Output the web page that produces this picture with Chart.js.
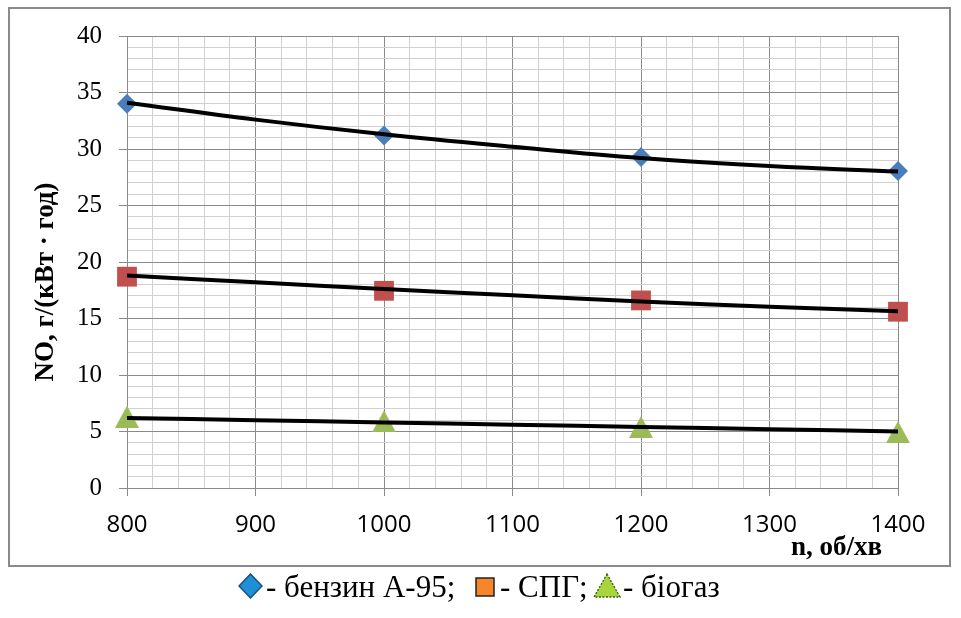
<!DOCTYPE html>
<html>
<head>
<meta charset="utf-8">
<script src="https://cdn.jsdelivr.net/npm/chart.js@4/dist/chart.umd.min.js"></script>
<style>
    body { margin: 0; background: #fff; }
    #wrap { position: relative; width: 961px; height: 618px; }
    .mark { position: absolute; }
</style>
</head>
<body>
<div id="wrap">
    <canvas id="grafico" width="961" height="618"></canvas>
    <svg class="mark" style="left:238px;top:573px" width="25" height="26">
        <polygon points="12.5,1 24,13 12.5,25 1,13" fill="#1f8fd6" stroke="#1b4f80" stroke-width="1.5"/>
    </svg>
    <svg class="mark" style="left:475px;top:577px" width="20" height="20">
        <rect x="1" y="1" width="18" height="18" fill="#f7862a" stroke="#222" stroke-width="1.5"/>
    </svg>
    <svg class="mark" style="left:593px;top:573px" width="28" height="25">
        <polygon points="14,1 27,24 1,24" fill="#a8d43c" stroke="#3d5a1a" stroke-width="1.3" stroke-dasharray="2,1.5"/>
    </svg>
</div>
<script>
// dados
const rpm = [800, 1000, 1200, 1400];
const benzin = [34.0, 31.2, 29.3, 28.05];
const spg = [18.7, 17.45, 16.6, 15.6];
const biogas = [6.3, 5.9, 5.4, 4.95];

// linhas de tendência (pretas)
const trendRpm = [800, 900, 1000, 1100, 1200, 1300, 1400];
const benzinTrend = [34.1, 32.6, 31.3, 30.2, 29.2, 28.5, 28.0];
const spgTrend = [18.8, 18.2, 17.6, 17.05, 16.5, 16.05, 15.65];
const biogasTrend = [6.2, 6.0, 5.8, 5.6, 5.4, 5.2, 5.0];

const yTitle = 'NO, г/(кВт · год)';
const xTitle = 'n, об/хв';
const legendaTextos = ['- бензин А-95;', '- СПГ;', '- біогаз'];
const legendaX = [266, 500, 623];

function pares(xs, ys) {
    return xs.map((x, i) => ({ x: x, y: ys[i] }));
}

// triângulo centrado na caixa, como no Excel
function trianguloImg() {
    const c = document.createElement('canvas');
    c.width = 24;
    c.height = 22;
    const g = c.getContext('2d');
    g.fillStyle = '#9bbb59';
    g.beginPath();
    g.moveTo(12, 0);
    g.lineTo(24, 22);
    g.lineTo(0, 22);
    g.closePath();
    g.fill();
    return c;
}

const MAJOR = '#8a8a8a';
const MINOR = '#d0d0d0';

const moldura = {
    id: 'moldura',
    beforeDraw(chart) {
        const ctx = chart.ctx;
        ctx.save();
        ctx.fillStyle = '#fff';
        ctx.fillRect(0, 0, chart.width, chart.height);
        ctx.restore();
    },
    afterDraw(chart) {
        const ctx = chart.ctx;
        ctx.save();
        ctx.strokeStyle = '#8a8a8a';
        ctx.lineWidth = 2;
        ctx.strokeRect(9, 8, 941, 558);

        // legenda
        ctx.fillStyle = '#000';
        ctx.font = '31px "Liberation Serif", serif';
        ctx.textAlign = 'left';
        ctx.textBaseline = 'alphabetic';
        legendaTextos.forEach((t, i) => ctx.fillText(t, legendaX[i], 597));

        // títulos dos eixos
        ctx.font = 'bold 27px "Liberation Serif", serif';
        ctx.textAlign = 'right';
        ctx.fillText(xTitle, 882, 555);

        ctx.translate(53, 282);
        ctx.rotate(-Math.PI / 2);
        ctx.textAlign = 'center';
        ctx.fillText(yTitle, 0, 0);
        ctx.restore();
    }
};

const ctx = document.getElementById('grafico').getContext('2d');

new Chart(ctx, {
    type: 'scatter',
    data: {
        datasets: [
            { data: pares(trendRpm, benzinTrend), showLine: true, borderColor: '#000', borderWidth: 4, pointRadius: 0, tension: 0.4, order: 0, clip: false },
            { data: pares(trendRpm, spgTrend), showLine: true, borderColor: '#000', borderWidth: 4, pointRadius: 0, tension: 0.4, order: 0, clip: false },
            { data: pares(trendRpm, biogasTrend), showLine: true, borderColor: '#000', borderWidth: 4, pointRadius: 0, tension: 0.4, order: 0, clip: false },
            { data: pares(rpm, benzin), pointStyle: 'rectRot', pointRadius: 10, backgroundColor: '#4a7ebb', borderWidth: 0, order: 1, clip: false },
            { data: pares(rpm, spg), pointStyle: 'rect', pointRadius: 14, backgroundColor: '#c0504d', borderWidth: 0, order: 1, clip: false },
            { data: pares(rpm, biogas), pointStyle: trianguloImg(), backgroundColor: '#9bbb59', borderWidth: 0, order: 1, clip: false }
        ]
    },
    options: {
        responsive: false,
        animation: false,
        events: [],
        layout: { padding: { left: 0, top: 36, right: 63, bottom: 50 } },
        plugins: { legend: { display: false }, tooltip: { enabled: false } },
        scales: {
            x: {
                type: 'linear',
                min: 800,
                max: 1400,
                afterFit: (s) => { s.height = 80; },
                ticks: {
                    stepSize: 20,
                    autoSkip: false,
                    maxRotation: 0,
                    padding: 15,
                    color: '#000',
                    font: { family: '"Open Sans", sans-serif', size: 24 },
                    callback: (v) => (v % 100 === 0 ? v : '')
                },
                grid: {
                    color: (c) => (c.tick && c.tick.value % 100 === 0 ? MAJOR : MINOR),
                    tickColor: (c) => (c.tick && c.tick.value % 100 === 0 ? MAJOR : 'rgba(0,0,0,0)'),
                    tickLength: 8,
                    lineWidth: 1
                },
                border: { color: MAJOR }
            },
            y: {
                min: 0,
                max: 40,
                afterFit: (s) => { s.width = 127; },
                ticks: {
                    stepSize: 1,
                    autoSkip: false,
                    padding: 17,
                    color: '#000',
                    font: { family: '"Liberation Serif", serif', size: 25 },
                    callback: (v) => (v % 5 === 0 ? v : '')
                },
                grid: {
                    color: (c) => (c.tick && c.tick.value % 5 === 0 ? MAJOR : MINOR),
                    tickColor: (c) => (c.tick && c.tick.value % 5 === 0 ? MAJOR : 'rgba(0,0,0,0)'),
                    tickLength: 8,
                    lineWidth: 1
                },
                border: { color: MAJOR }
            }
        }
    },
    plugins: [moldura]
});
</script>
</body>
</html>
